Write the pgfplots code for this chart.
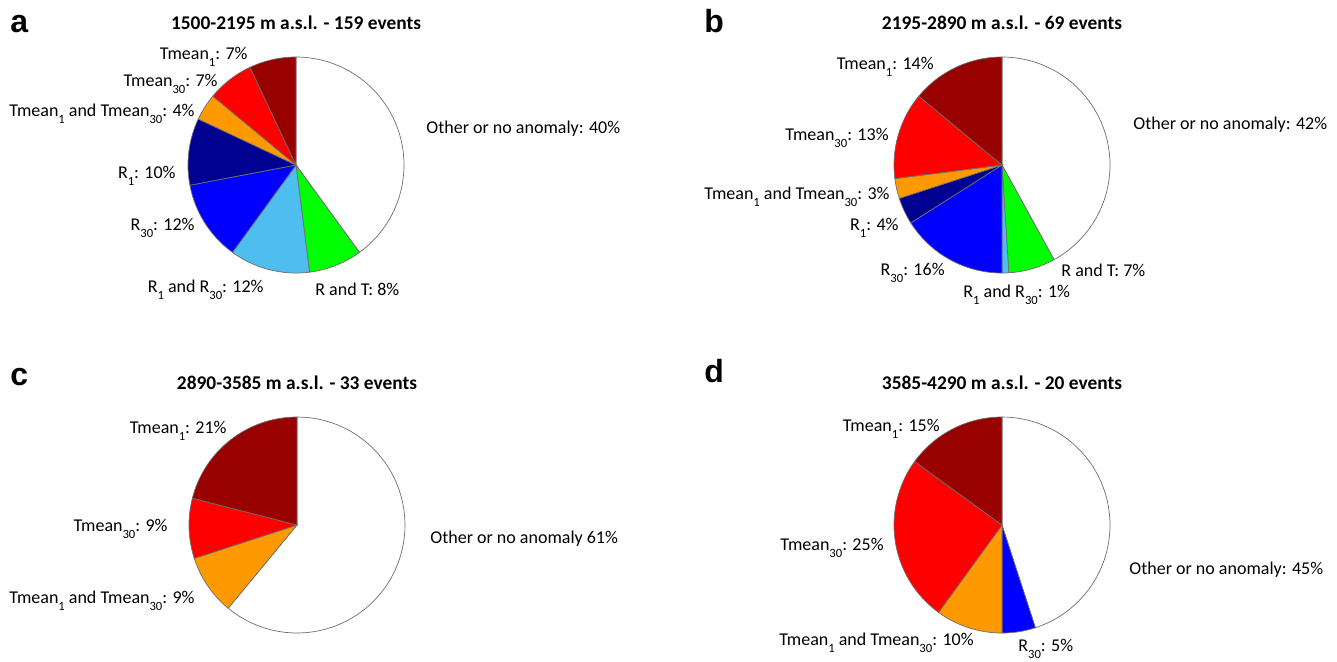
\documentclass[border=0pt]{standalone}
\usepackage{pgfplots}
\pgfplotsset{compat=1.18}
\usepackage{fontspec}
\setmainfont{Carlito}
\newfontfamily\lettfont{Liberation Sans}
\definecolor{cOther}{RGB}{255,255,255}
\definecolor{cRT}{RGB}{0,255,0}
\definecolor{cRR}{RGB}{77,190,238}
\definecolor{cR30}{RGB}{0,0,255}
\definecolor{cR1}{RGB}{0,0,145}
\definecolor{cTT}{RGB}{255,153,0}
\definecolor{cT30}{RGB}{255,0,0}
\definecolor{cT1}{RGB}{153,0,0}
\definecolor{edgec}{RGB}{110,110,110}
\newcommand\lab{\fontsize{9}{10}\selectfont}
\newcommand\ttl{\fontsize{9.7}{11}\selectfont\bfseries}
\newcommand\panl{\fontsize{16}{17}\selectfont\lettfont\bfseries}
\newcommand\piecenter[3]{\gdef\cx{#1}\gdef\cy{#2}\gdef\rr{#3}\gdef\cum{0}}
\newcommand\slice[2]{%
  \pgfmathsetmacro\nxt{\cum+#1}%
  \edef\doslice{\noexpand\addplot[fill=#2, draw=edgec, line width=0.35pt, domain=\cum:\nxt, samples=60, variable=\noexpand\t] ({\cx+\rr*sin(3.6*\noexpand\t)},{\cy-\rr*cos(3.6*\noexpand\t)}) -- (axis cs:\cx,\cy) -- cycle;}%
  \doslice
  \global\let\cum\nxt}
\newcommand\sub[1]{\raisebox{-3.6pt}{\fontsize{6.3}{6}\selectfont #1}}
\begin{document}
\begin{tikzpicture}
\useasboundingbox (0,0) rectangle (668.5pt,330.5pt);
\begin{axis}[x=0.5pt, y=0.5pt, xmin=0, xmax=1337, ymin=0, ymax=661, y dir=reverse,
  hide axis, clip=false, anchor=south west, at={(0,0)}]
% ---- panel a: 1500-2195 m, 159 events
\piecenter{296}{165}{108}
\slice{40}{cOther}
\slice{8}{cRT}
\slice{12}{cRR}
\slice{12}{cR30}
\slice{10}{cR1}
\slice{4}{cTT}
\slice{7}{cT30}
\slice{7}{cT1}
% ---- panel b: 2195-2890 m, 69 events
\piecenter{1002}{165}{108}
\slice{42}{cOther}
\slice{7}{cRT}
\slice{1}{cRR}
\slice{16}{cR30}
\slice{4}{cR1}
\slice{3}{cTT}
\slice{13}{cT30}
\slice{14}{cT1}
% ---- panel c: 2890-3585 m, 33 events
\piecenter{297}{525}{108}
\slice{61}{cOther}
\slice{9}{cTT}
\slice{9}{cT30}
\slice{21}{cT1}
% ---- panel d: 3585-4290 m, 20 events
\piecenter{1002}{525}{108}
\slice{45}{cOther}
\slice{5}{cR30}
\slice{10}{cTT}
\slice{25}{cT30}
\slice{15}{cT1}
% ---- panel letters and titles
\node[anchor=base west, font=\panl, inner sep=0pt] at (axis cs:10,32) {a};
\node[anchor=base west, font=\panl, inner sep=0pt] at (axis cs:704,32) {b};
\node[anchor=base west, font=\panl, inner sep=0pt] at (axis cs:10,385) {c};
\node[anchor=base west, font=\panl, inner sep=0pt] at (axis cs:704,382) {d};
\node[font=\ttl, inner sep=0pt] at (axis cs:296,23) {1500-2195 m a.s.l. - 159 events};
\node[font=\ttl, inner sep=0pt] at (axis cs:1002,23) {2195-2890 m a.s.l. - 69 events};
\node[font=\ttl, inner sep=0pt] at (axis cs:297,383) {2890-3585 m a.s.l. - 33 events};
\node[font=\ttl, inner sep=0pt] at (axis cs:1002,383) {3585-4290 m a.s.l. - 20 events};
% ---- labels a
\node[anchor=base east, font=\lab, inner sep=0pt] at (axis cs:248,59) {Tmean\sub{1}: 7\%};
\node[anchor=base east, font=\lab, inner sep=0pt] at (axis cs:218,86) {Tmean\sub{30}: 7\%};
\node[anchor=base east, font=\lab, inner sep=0pt] at (axis cs:195,116) {Tmean\sub{1} and Tmean\sub{30}: 4\%};
\node[anchor=base east, font=\lab, inner sep=0pt] at (axis cs:176,178) {R\sub{1}: 10\%};
\node[anchor=base east, font=\lab, inner sep=0pt] at (axis cs:195,230) {R\sub{30}: 12\%};
\node[anchor=base east, font=\lab, inner sep=0pt] at (axis cs:264,292) {R\sub{1} and R\sub{30}: 12\%};
\node[anchor=base west, font=\lab, inner sep=0pt] at (axis cs:315,295) {R and T: 8\%};
\node[anchor=base west, font=\lab, inner sep=0pt] at (axis cs:426,133) {Other or no anomaly: 40\%};
% ---- labels b
\node[anchor=base east, font=\lab, inner sep=0pt] at (axis cs:934,69) {Tmean\sub{1}: 14\%};
\node[anchor=base east, font=\lab, inner sep=0pt] at (axis cs:889,140) {Tmean\sub{30}: 13\%};
\node[anchor=base east, font=\lab, inner sep=0pt] at (axis cs:890,199) {Tmean\sub{1} and Tmean\sub{30}: 3\%};
\node[anchor=base east, font=\lab, inner sep=0pt] at (axis cs:899,230) {R\sub{1}: 4\%};
\node[anchor=base east, font=\lab, inner sep=0pt] at (axis cs:945,275) {R\sub{30}: 16\%};
\node[anchor=base west, font=\lab, inner sep=0pt] at (axis cs:963,297) {R\sub{1} and R\sub{30}: 1\%};
\node[anchor=base west, font=\lab, inner sep=0pt] at (axis cs:1061,276) {R and T: 7\%};
\node[anchor=base west, font=\lab, inner sep=0pt] at (axis cs:1133,129) {Other or no anomaly: 42\%};
% ---- labels c
\node[anchor=base east, font=\lab, inner sep=0pt] at (axis cs:227,433) {Tmean\sub{1}: 21\%};
\node[anchor=base east, font=\lab, inner sep=0pt] at (axis cs:168,531) {Tmean\sub{30}: 9\%};
\node[anchor=base east, font=\lab, inner sep=0pt] at (axis cs:195,603) {Tmean\sub{1} and Tmean\sub{30}: 9\%};
\node[anchor=base west, font=\lab, inner sep=0pt] at (axis cs:430,543) {Other or no anomaly 61\%};
% ---- labels d
\node[anchor=base east, font=\lab, inner sep=0pt] at (axis cs:940,431) {Tmean\sub{1}: 15\%};
\node[anchor=base east, font=\lab, inner sep=0pt] at (axis cs:884,550) {Tmean\sub{30}: 25\%};
\node[anchor=base east, font=\lab, inner sep=0pt] at (axis cs:974,645) {Tmean\sub{1} and Tmean\sub{30}: 10\%};
\node[anchor=base west, font=\lab, inner sep=0pt] at (axis cs:1018,651) {R\sub{30}: 5\%};
\node[anchor=base west, font=\lab, inner sep=0pt] at (axis cs:1129,574) {Other or no anomaly: 45\%};
\end{axis}
\end{tikzpicture}
\end{document}
